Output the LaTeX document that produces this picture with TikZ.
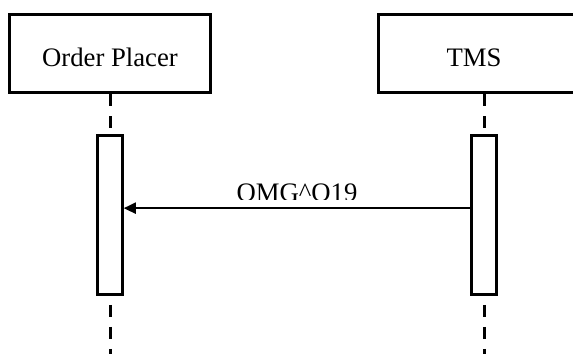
\documentclass[tikz,border=0pt]{standalone}
\usepackage{fontspec}
\setmainfont{Liberation Serif}
\usepackage{tikz}
\usetikzlibrary{arrows.meta}
\newcommand{\lifeline}[3]{
    \draw[line width=1.5pt, dash pattern=on 6pt off 5pt, dash phase=#3] (#1) -- (#2);
}

\begin{document}
\begin{tikzpicture}[x=0.5pt, y=-0.5pt,
        box/.style={draw, line width=1.5pt, fill=white, minimum width=100.5pt, minimum height=39pt, inner sep=0pt},
        bar/.style={draw, line width=1.5pt, fill=white, minimum width=12.25pt, minimum height=79.5pt, inner sep=0pt},
        caption/.style={font=\fontsize{13.35pt}{16pt}\selectfont, inner sep=0pt},
        msg/.style={line width=1pt, -{Triangle[length=6pt, width=5.5pt]}}]
        \useasboundingbox (0,0) rectangle (573,354);
            \node[box] (placer) at (110,53.5) {};
            \node[box, minimum width=106pt] (tms) at (484,53.5) {};
            \node[caption] (placername) at (110,57.5) {Order Placer};
            \node[caption] (tmsname) at (474,57.5) {TMS};
            \node[bar] (placerbar) at (110,214.75) {};
            \node[bar] (tmsbar) at (484,214.75) {};
            \coordinate (placerend) at (110,354);
            \coordinate (tmsend) at (484,354);
            \lifeline{placer.south}{placerbar.north}{0pt}
            \lifeline{tms.south}{tmsbar.north}{0pt}
            \lifeline{placerbar.south}{placerend}{6.5pt}
            \lifeline{tmsbar.south}{tmsend}{6.5pt}
            \draw[msg] ([yshift=3.3pt]tmsbar.west) -- ([yshift=3.3pt]placerbar.east);
            % the label is cut off just above the line
            \begin{scope}
                \clip (0,0) rectangle (573,199.5);
                \path ([yshift=3.3pt]tmsbar.west) -- ([yshift=3.3pt]placerbar.east)
                    node[caption, midway, above=3.2pt] (msglabel) {OMG\textasciicircum O19};
            \end{scope}
    \end{tikzpicture}
\end{document}
